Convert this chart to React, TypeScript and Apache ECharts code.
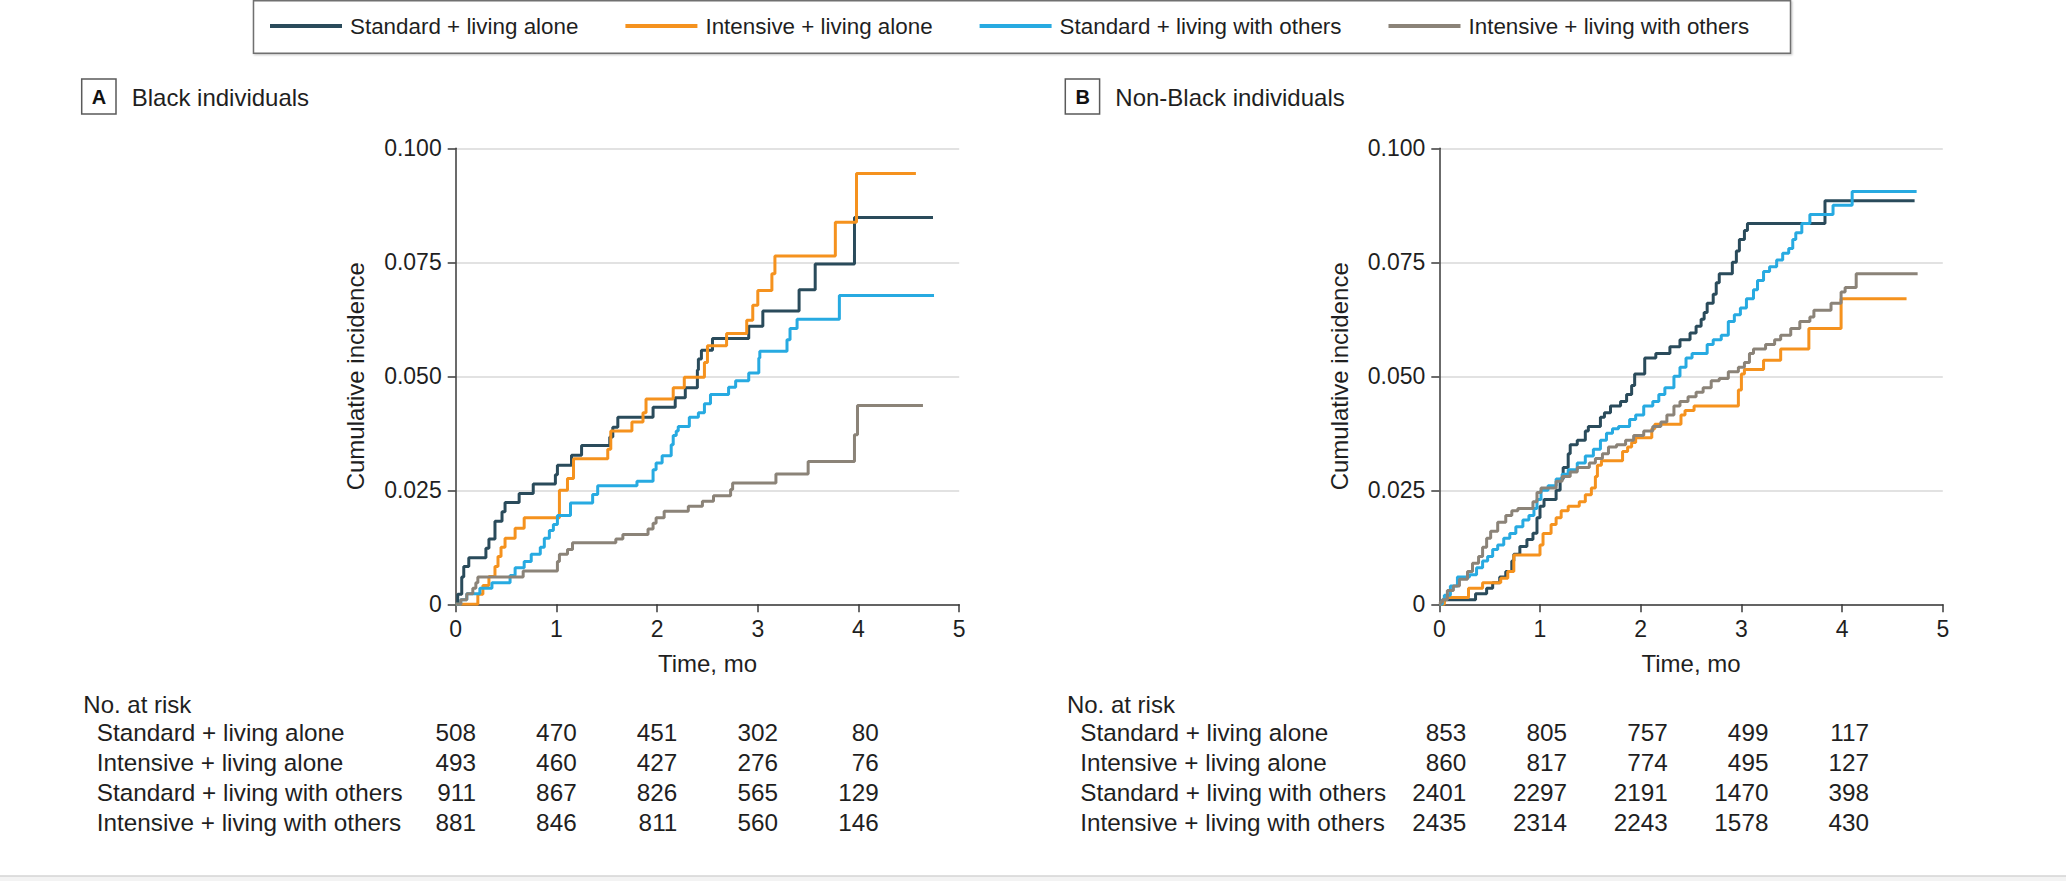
import React, { useEffect, useRef } from 'react';
import * as echarts from 'echarts';

const FONT = "'Liberation Sans', Arial, sans-serif";
const TEXT = '#1f1f1f';

const seriesNames = [
  'Standard + living alone',
  'Intensive + living alone',
  'Standard + living with others',
  'Intensive + living with others',
];
const seriesColors = ['#2a4b5b', '#f5921e', '#27aae1', '#8b8378'];

const timeTicks = [0, 1, 2, 3, 4, 5];
const incidenceTicks = [0, 0.025, 0.05, 0.075, 0.1];

// Panel A: Black individuals
const blackStdAloneT = [0, 0.02, 0.06, 0.08, 0.13, 0.30, 0.33, 0.39, 0.46, 0.49, 0.63, 0.77, 0.99, 1.01, 1.15, 1.25, 1.53, 1.56, 1.61, 1.96, 2.18, 2.28, 2.40, 2.41, 2.44, 2.55, 2.91, 3.05, 3.41, 3.57, 3.96, 4.74];
const blackStdAloneV = [0, 0.0022, 0.006, 0.0083, 0.0102, 0.0123, 0.0143, 0.0182, 0.0203, 0.0223, 0.0243, 0.0264, 0.0284, 0.0305, 0.0327, 0.0348, 0.0367, 0.0388, 0.041, 0.0432, 0.0453, 0.0475, 0.0514, 0.0538, 0.0557, 0.0583, 0.061, 0.0643, 0.069, 0.0746, 0.0848, 0.0848];

const blackIntAloneT = [0, 0.22, 0.27, 0.33, 0.39, 0.42, 0.45, 0.49, 0.59, 0.68, 1.03, 1.11, 1.17, 1.51, 1.54, 1.75, 1.86, 1.89, 2.16, 2.27, 2.47, 2.50, 2.69, 2.89, 2.95, 3.00, 3.14, 3.17, 3.77, 3.98, 4.57];
const blackIntAloneV = [0, 0.0022, 0.0041, 0.0061, 0.0083, 0.0105, 0.0125, 0.0145, 0.0167, 0.019, 0.025, 0.0276, 0.0319, 0.034, 0.038, 0.040, 0.042, 0.045, 0.0475, 0.0498, 0.053, 0.0567, 0.0594, 0.0623, 0.0656, 0.0688, 0.0725, 0.0764, 0.0838, 0.0945, 0.0945];

const blackStdOthersT = [0, 0.05, 0.11, 0.24, 0.36, 0.54, 0.59, 0.68, 0.75, 0.84, 0.88, 0.93, 0.97, 1.01, 1.14, 1.36, 1.41, 1.80, 1.96, 1.99, 2.05, 2.14, 2.16, 2.19, 2.21, 2.32, 2.41, 2.47, 2.53, 2.71, 2.78, 2.91, 3.01, 3.02, 3.29, 3.32, 3.39, 3.81, 4.75];
const blackStdOthersV = [0, 0.001, 0.0023, 0.0035, 0.0047, 0.0063, 0.008, 0.0094, 0.011, 0.0125, 0.0145, 0.0162, 0.0175, 0.0195, 0.0222, 0.0241, 0.026, 0.027, 0.0295, 0.031, 0.0326, 0.035, 0.037, 0.038, 0.039, 0.041, 0.042, 0.044, 0.046, 0.0476, 0.049, 0.0507, 0.054, 0.0555, 0.058, 0.0605, 0.0625, 0.0677, 0.0677];

const blackIntOthersT = [0, 0.05, 0.11, 0.17, 0.20, 0.22, 0.67, 1.01, 1.03, 1.11, 1.16, 1.59, 1.66, 1.91, 1.96, 1.99, 2.07, 2.31, 2.45, 2.56, 2.73, 2.75, 3.18, 3.50, 3.96, 3.99, 4.64];
const blackIntOthersV = [0, 0.001, 0.0023, 0.0035, 0.0047, 0.006, 0.0073, 0.0094, 0.011, 0.012, 0.0135, 0.0143, 0.0153, 0.0165, 0.0178, 0.019, 0.0204, 0.0215, 0.0226, 0.0238, 0.0252, 0.0266, 0.0286, 0.0313, 0.0372, 0.0436, 0.0436];

// Panel B: Non-Black individuals
const nonBlackStdAloneT = [0, 0.03, 0.05, 0.36, 0.47, 0.53, 0.60, 0.66, 0.72, 0.74, 0.80, 0.87, 0.93, 0.97, 1.00, 1.04, 1.16, 1.20, 1.23, 1.28, 1.30, 1.37, 1.45, 1.48, 1.60, 1.64, 1.70, 1.80, 1.86, 1.91, 1.94, 2.04, 2.15, 2.29, 2.39, 2.49, 2.55, 2.60, 2.63, 2.66, 2.72, 2.75, 2.78, 2.91, 2.95, 2.98, 3.03, 3.06, 3.83, 4.72];
const nonBlackStdAloneV = [0, 0.0005, 0.001, 0.0023, 0.0035, 0.0047, 0.006, 0.0072, 0.0095, 0.011, 0.0127, 0.0142, 0.0156, 0.019, 0.0215, 0.023, 0.025, 0.0275, 0.030, 0.033, 0.035, 0.036, 0.038, 0.039, 0.041, 0.042, 0.0435, 0.0445, 0.046, 0.048, 0.0505, 0.054, 0.055, 0.0565, 0.058, 0.0595, 0.061, 0.0625, 0.064, 0.066, 0.068, 0.0705, 0.0725, 0.075, 0.0775, 0.080, 0.082, 0.0835, 0.0885, 0.0885];

const nonBlackIntAloneT = [0, 0.05, 0.29, 0.43, 0.61, 0.68, 0.74, 1.00, 1.03, 1.11, 1.16, 1.21, 1.28, 1.39, 1.45, 1.51, 1.55, 1.57, 1.61, 1.82, 1.87, 1.91, 1.95, 2.11, 2.14, 2.40, 2.44, 2.53, 2.97, 3.00, 3.03, 3.22, 3.39, 3.67, 3.99, 4.64];
const nonBlackIntAloneV = [0, 0.0015, 0.0035, 0.0047, 0.0057, 0.0072, 0.0108, 0.013, 0.0155, 0.0175, 0.019, 0.0205, 0.0215, 0.0225, 0.024, 0.0255, 0.028, 0.0305, 0.0315, 0.0335, 0.0345, 0.0355, 0.0365, 0.0385, 0.0395, 0.0415, 0.0425, 0.0435, 0.047, 0.0505, 0.0515, 0.0535, 0.056, 0.0605, 0.067, 0.067];

const nonBlackStdOthersT = [0, 0.03, 0.05, 0.11, 0.18, 0.30, 0.37, 0.43, 0.48, 0.53, 0.58, 0.64, 0.70, 0.76, 0.83, 0.89, 0.94, 0.97, 1.01, 1.08, 1.16, 1.22, 1.28, 1.37, 1.45, 1.53, 1.60, 1.66, 1.72, 1.78, 1.89, 1.95, 2.03, 2.12, 2.18, 2.24, 2.33, 2.39, 2.45, 2.51, 2.66, 2.72, 2.80, 2.87, 2.93, 2.99, 3.05, 3.12, 3.16, 3.22, 3.28, 3.35, 3.41, 3.47, 3.51, 3.54, 3.60, 3.68, 3.91, 4.10, 4.74];
const nonBlackStdOthersV = [0, 0.001, 0.002, 0.004, 0.006, 0.0065, 0.008, 0.0095, 0.0105, 0.012, 0.013, 0.0145, 0.0155, 0.017, 0.0185, 0.0195, 0.021, 0.023, 0.025, 0.026, 0.0275, 0.0285, 0.0295, 0.031, 0.0325, 0.034, 0.036, 0.0375, 0.0385, 0.039, 0.0405, 0.0415, 0.0435, 0.0445, 0.046, 0.0475, 0.050, 0.052, 0.054, 0.055, 0.057, 0.058, 0.059, 0.062, 0.0635, 0.065, 0.067, 0.069, 0.071, 0.073, 0.074, 0.0755, 0.077, 0.078, 0.080, 0.0815, 0.0835, 0.0855, 0.0875, 0.0905, 0.0905];

const nonBlackIntOthersT = [0, 0.01, 0.03, 0.08, 0.14, 0.20, 0.28, 0.33, 0.39, 0.43, 0.47, 0.51, 0.58, 0.66, 0.72, 0.78, 0.93, 0.97, 1.01, 1.16, 1.22, 1.30, 1.37, 1.49, 1.55, 1.62, 1.68, 1.76, 1.85, 1.93, 2.03, 2.12, 2.20, 2.26, 2.33, 2.39, 2.47, 2.55, 2.62, 2.70, 2.78, 2.87, 2.97, 3.03, 3.08, 3.12, 3.24, 3.33, 3.39, 3.49, 3.58, 3.68, 3.72, 3.89, 3.99, 4.03, 4.14, 4.75];
const nonBlackIntOthersV = [0, 0.0005, 0.001, 0.003, 0.004, 0.0055, 0.0072, 0.009, 0.0105, 0.0125, 0.0145, 0.016, 0.018, 0.0195, 0.0205, 0.021, 0.0225, 0.0245, 0.0255, 0.027, 0.028, 0.029, 0.030, 0.031, 0.032, 0.033, 0.0345, 0.035, 0.036, 0.037, 0.038, 0.039, 0.040, 0.0415, 0.0435, 0.0445, 0.0455, 0.0465, 0.0475, 0.049, 0.0495, 0.051, 0.052, 0.053, 0.055, 0.056, 0.057, 0.058, 0.059, 0.0605, 0.062, 0.063, 0.0645, 0.066, 0.0685, 0.0695, 0.0725, 0.0725];

// Numbers at risk (at months 0..4)
const riskTimes = [0, 1, 2, 3, 4];
const riskBlackStdAlone = [508, 470, 451, 302, 80];
const riskBlackIntAlone = [493, 460, 427, 276, 76];
const riskBlackStdOthers = [911, 867, 826, 565, 129];
const riskBlackIntOthers = [881, 846, 811, 560, 146];
const riskNonBlackStdAlone = [853, 805, 757, 499, 117];
const riskNonBlackIntAlone = [860, 817, 774, 495, 127];
const riskNonBlackStdOthers = [2401, 2297, 2191, 1470, 398];
const riskNonBlackIntOthers = [2435, 2314, 2243, 1578, 430];

const panelTitles = ['Black individuals', 'Non-Black individuals'];
const panelLetters = ['A', 'B'];

const zip = (t: number[], v: number[]) => t.map((x, i) => [x, v[i]]);

export default function App() {
  const ref = useRef<HTMLDivElement>(null);

  useEffect(() => {
    if (!ref.current) return;
    const chart = echarts.init(ref.current, undefined, { renderer: 'svg' });

    const grids = [
      { left: 455.7, top: 148.3, width: 503.5, height: 456 },
      { left: 1439.3, top: 148.3, width: 503.5, height: 456 },
    ];

    const panelSeries = [
      [zip(blackStdAloneT, blackStdAloneV), zip(blackIntAloneT, blackIntAloneV), zip(blackStdOthersT, blackStdOthersV), zip(blackIntOthersT, blackIntOthersV)],
      [zip(nonBlackStdAloneT, nonBlackStdAloneV), zip(nonBlackIntAloneT, nonBlackIntAloneV), zip(nonBlackStdOthersT, nonBlackStdOthersV), zip(nonBlackIntOthersT, nonBlackIntOthersV)],
    ];

    const xAxis = grids.map((_, i) => ({
      type: 'value',
      gridIndex: i,
      min: timeTicks[0],
      max: timeTicks[timeTicks.length - 1],
      interval: 1,
      name: 'Time, mo',
      nameLocation: 'middle',
      nameGap: 47,
      nameTextStyle: { fontSize: 24, color: TEXT, fontFamily: FONT },
      axisLine: { show: true, onZero: false, lineStyle: { color: '#3a3a3a', width: 1.5 } },
      axisTick: { show: true, length: 8, lineStyle: { color: '#3a3a3a', width: 1.5 } },
      axisLabel: { fontSize: 23, color: TEXT, fontFamily: FONT, margin: 13 },
      splitLine: { show: false },
    }));

    const yAxis = grids.map((_, i) => ({
      type: 'value',
      gridIndex: i,
      min: incidenceTicks[0],
      max: incidenceTicks[incidenceTicks.length - 1],
      interval: 0.025,
      name: 'Cumulative incidence',
      nameLocation: 'middle',
      nameRotate: 90,
      nameGap: 88,
      nameTextStyle: { fontSize: 24, color: TEXT, fontFamily: FONT },
      axisLine: { show: true, lineStyle: { color: '#3a3a3a', width: 1.5 } },
      axisTick: { show: true, length: 8, lineStyle: { color: '#3a3a3a', width: 1.5 } },
      axisLabel: {
        fontSize: 23,
        color: TEXT,
        fontFamily: FONT,
        margin: 14,
        formatter: (v: number) => (v === 0 ? '0' : v.toFixed(3)),
      },
      splitLine: { show: true, lineStyle: { color: '#d8d8d8', width: 1.5 } },
    }));

    const series: any[] = [];
    panelSeries.forEach((group, gi) => {
      group.forEach((data, si) => {
        series.push({
          type: 'line',
          name: seriesNames[si],
          xAxisIndex: gi,
          yAxisIndex: gi,
          step: 'end',
          showSymbol: false,
          symbol: 'none',
          data,
          color: seriesColors[si],
          lineStyle: { width: 3, color: seriesColors[si] },
          emphasis: { disabled: true },
          z: 3 + si,
        });
      });
    });

    chart.setOption({
      animation: false,
      backgroundColor: '#ffffff',
      textStyle: { fontFamily: FONT },
      grid: grids.map((g) => ({ ...g, containLabel: false })),
      xAxis,
      yAxis,
      legend: {
        data: seriesNames,
        left: 270,
        top: 15,
        padding: 0,
        itemGap: 47,
        itemWidth: 72,
        itemHeight: 4,
        icon: 'rect',
        selectedMode: false,
        textStyle: { fontSize: 22.4, color: TEXT, fontFamily: FONT, padding: [0, 0, 0, 3] },
        z: 10,
      },
      series,
    });

    // Build the graphic layer (frames, titles, at-risk tables)
    const graphics: any[] = [];
    graphics.push({
      type: 'rect',
      z: 0,
      shape: { x: 253.5, y: 0.75, width: 1537, height: 52.5 },
      style: { fill: '#ffffff', stroke: '#6f6f6f', lineWidth: 1.5, shadowBlur: 2, shadowOffsetX: 1, shadowOffsetY: 1, shadowColor: 'rgba(0,0,0,0.25)' },
    });

    const riskTables = [
      [riskBlackStdAlone, riskBlackIntAlone, riskBlackStdOthers, riskBlackIntOthers],
      [riskNonBlackStdAlone, riskNonBlackIntAlone, riskNonBlackStdOthers, riskNonBlackIntOthers],
    ];
    const rowY = [732, 762, 792, 822];

    [0, 1].forEach((gi) => {
      const x0 = chart.convertToPixel({ xAxisIndex: gi }, 0) as number;
      const dx = x0 - 455.7;
      // Panel letter box
      graphics.push({
        type: 'rect',
        shape: { x: 81.7 + dx, y: 79, width: 34.3, height: 35 },
        style: { fill: '#fff', stroke: '#5a5a5a', lineWidth: 1.5 },
      });
      graphics.push({
        type: 'text',
        x: 99 + dx,
        y: 97,
        style: {
          text: panelLetters[gi],
          font: `bold 20px ${FONT}`,
          fill: '#111',
          align: 'center',
          verticalAlign: 'middle',
          textAlign: 'center',
          textVerticalAlign: 'middle',
        },
      });
      graphics.push({
        type: 'text',
        x: 131.7 + dx,
        y: 97.5,
        style: {
          text: panelTitles[gi],
          font: `24px ${FONT}`,
          fill: TEXT,
          align: 'left',
          verticalAlign: 'middle',
          textAlign: 'left',
          textVerticalAlign: 'middle',
        },
      });
      // No. at risk
      graphics.push({
        type: 'text',
        x: 83.3 + dx,
        y: 704,
        style: {
          text: 'No. at risk',
          font: `24px ${FONT}`,
          fill: TEXT,
          align: 'left',
          verticalAlign: 'middle',
          textAlign: 'left',
          textVerticalAlign: 'middle',
        },
      });
      const rows = riskTables[gi];
      const maxDigits = Math.max(...rows.map((r) => Math.max(...r.map((v) => String(v).length))));
      const halfW = (maxDigits * 0.556 * 24.3) / 2;
      rows.forEach((row, ri) => {
        graphics.push({
          type: 'text',
          x: 96.7 + dx,
          y: rowY[ri],
          style: {
            text: seriesNames[ri],
            font: `24.3px ${FONT}`,
            fill: TEXT,
            align: 'left',
            verticalAlign: 'middle',
            textAlign: 'left',
            textVerticalAlign: 'middle',
          },
        });
        row.forEach((v, ci) => {
          const px = chart.convertToPixel({ xAxisIndex: gi }, riskTimes[ci]) as number;
          graphics.push({
            type: 'text',
            x: px + halfW,
            y: rowY[ri],
            style: {
              text: String(v),
              font: `24.3px ${FONT}`,
              fill: TEXT,
              align: 'right',
              verticalAlign: 'middle',
              textAlign: 'right',
              textVerticalAlign: 'middle',
            },
          });
        });
      });
    });

    // bottom strip
    graphics.push({
      type: 'rect',
      shape: { x: 0, y: 876, width: 2066, height: 6 },
      style: { fill: '#f3f3f3', stroke: null },
    });
    graphics.push({
      type: 'line',
      shape: { x1: 0, y1: 876, x2: 2066, y2: 876 },
      style: { stroke: '#d4d4d4', lineWidth: 1.5 },
    });

    chart.setOption({ graphic: { elements: graphics } });

    return () => chart.dispose();
  }, []);

  return (
    <div
      ref={ref}
      style={{ position: 'absolute', left: 0, top: 0, width: 2066, height: 881, background: '#fff' }}
    />
  );
}
